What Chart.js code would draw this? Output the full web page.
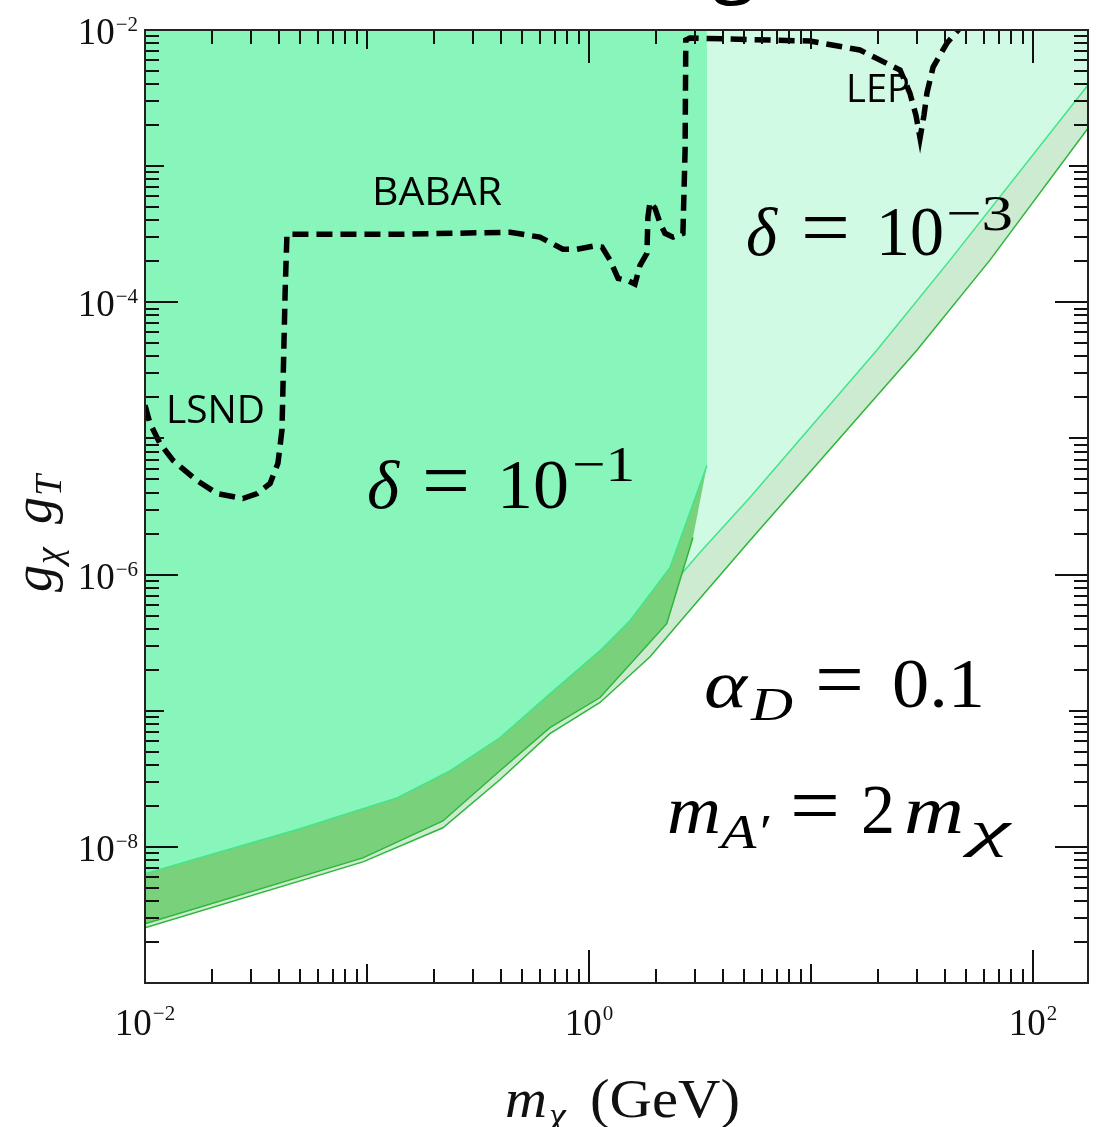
<!DOCTYPE html>
<html>
<head>
<meta charset="utf-8">
<script src="https://cdn.jsdelivr.net/npm/chart.js@4.4.1/dist/chart.umd.min.js"></script>
<style>
  html, body { margin: 0; padding: 0; background: #fff; }
</style>
</head>
<body>
<canvas id="chart" width="1104" height="1127"></canvas>
<script>
// --- data: m_chi in GeV, g_chi g_T ---

// LSND + BABAR + LEP limit (dashed)
const limitMass = [0.01, 0.01053, 0.01169, 0.01337, 0.01714, 0.0211, 0.0276, 0.0320, 0.0366, 0.0397, 0.0414, 0.0419, 0.0428, 0.0436,
  0.141, 0.441, 0.601, 0.763, 0.883, 1.042, 1.145, 1.244, 1.352, 1.484, 1.611, 1.698, 1.824, 1.843, 1.882, 1.983, 2.09, 2.20, 2.39, 2.65,
  2.71, 2.73, 2.85, 9.89, 16.6, 25.2, 27.9, 29.7, 31.0, 32.3, 33.3, 35.5, 41.0, 46.9];
const limitCoupling = [1.75e-5, 1.29e-5, 9.18e-6, 6.89e-6, 4.91e-6, 3.94e-6, 3.62e-6, 3.94e-6, 4.67e-6, 6.55e-6, 1.15e-5, 2.67e-5, 1.22e-4, 3.16e-4,
  3.16e-4, 3.27e-4, 3.01e-4, 2.45e-4, 2.45e-4, 2.58e-4, 2.54e-4, 2.04e-4, 1.50e-4, 1.45e-4, 1.36e-4, 1.87e-4, 2.29e-4, 4.22e-4, 5.43e-4, 4.91e-4, 3.81e-4, 3.21e-4, 3.01e-4, 3.21e-4,
  1.31e-3, 8.44e-3, 8.73e-3, 8.30e-3, 7.13e-3, 5.08e-3, 3.44e-3, 2.37e-3, 1.61e-3, 2.37e-3, 3.44e-3, 5.34e-3, 8.02e-3, 1.035e-2];

// delta = 1e-1 band
const d1UpperMass = [0.01, 0.0499, 0.1365, 0.2366, 0.397, 0.667, 1.122, 1.531, 2.32, 3.06, 3.40];
const d1Upper = [6.33e-9, 1.36e-8, 2.29e-8, 3.62e-8, 6.33e-8, 1.33e-7, 2.76e-7, 4.59e-7, 1.13e-6, 3.94e-6, 6.33e-6];
const d1LowerMass = [0.01, 0.0959, 0.2198, 0.397, 0.667, 1.122, 2.24, 2.94];
const d1Lower = [2.72e-9, 8.30e-9, 1.55e-8, 3.62e-8, 7.50e-8, 1.25e-7, 4.36e-7, 1.87e-6];

// delta = 1e-3 band
const d3UpperMass = [0.01, 0.0499, 0.1365, 0.2366, 0.397, 0.667, 1.122, 1.698, 2.65, 3.16, 5.31, 19.8, 42.3, 177];
const d3Upper = [6.01e-9, 1.29e-8, 2.18e-8, 3.44e-8, 5.92e-8, 1.23e-7, 2.54e-7, 4.59e-7, 1.04e-6, 1.45e-6, 3.68e-6, 4.44e-5, 2.04e-4, 3.94e-3];
const d3LowerMass = [0.01, 0.0959, 0.2198, 0.397, 0.667, 1.122, 1.884, 3.16, 5.31, 30.0, 64.0, 177];
const d3Lower = [2.54e-9, 7.76e-9, 1.38e-8, 3.11e-8, 6.78e-8, 1.15e-7, 2.49e-7, 6.67e-7, 1.78e-6, 4.44e-5, 2.04e-4, 1.90e-3];

const xMin = 0.01, xMax = 177, yMin = 1e-9, yMax = 1e-2;
const xLabelExps = [-2, 0, 2];
const yLabelExps = [-2, -4, -6, -8];

// helpers
const pts = (xs, ys) => xs.map((x, i) => ({ x, y: ys[i] }));
const SERIF = '"Liberation Serif", "DejaVu Serif", serif';
const SANS = '"Open Sans", "Noto Sans", sans-serif';

// polygons built from the curves
const d1Region = [{ x: xMin, y: yMax }, { x: d1UpperMass[d1UpperMass.length - 1], y: yMax }, ...pts(d1UpperMass, d1Upper).reverse()];
const d1Band = [...pts(d1UpperMass, d1Upper), ...pts(d1LowerMass, d1Lower).reverse()];
const d3Region = [{ x: xMin, y: yMax }, { x: xMax, y: yMax }, ...pts(d3UpperMass, d3Upper).reverse()];
const d3Band = [...pts(d3UpperMass, d3Upper), ...pts(d3LowerMass, d3Lower).reverse()];

const shape = (data, color, order) => ({ data, fill: 'shape', backgroundColor: color, borderWidth: 0, order });
const curve = (data, color, order) => ({ data, fill: false, borderColor: color, borderWidth: 1.5, order });

// draw text pieces {t, x, y, s, it, w}; w squeezes/stretches the piece to a width
const drawParts = (ctx, parts, family = SERIF) => {
    parts.forEach(p => {
        ctx.font = `${p.it ? 'italic ' : ''}${p.s}px ${family}`;
        if (p.w) {
            const sx = p.w / ctx.measureText(p.t).width;
            ctx.save();
            ctx.translate(p.x, p.y);
            ctx.scale(sx, 1);
            ctx.fillText(p.t, 0, 0);
            ctx.restore();
        } else {
            ctx.fillText(p.t, p.x, p.y);
        }
    });
};

const framePlugin = {
    id: 'frame',
    afterDraw(chart) {
        const { ctx, chartArea: a, scales: { x, y } } = chart;
        ctx.save();

        // ticks on all four sides, pointing inward
        ctx.strokeStyle = '#111';
        ctx.lineWidth = 2;
        ctx.beginPath();
        for (let d = -2; d <= 2; d++) {
            for (let k = 1; k <= 9; k++) {
                const v = k * Math.pow(10, d);
                if (v < xMin * 0.999 || v > xMax) continue;
                const px = Math.round(x.getPixelForValue(v));
                const len = k > 1 ? 14 : (d % 2 === 0 ? 33 : 19);
                ctx.moveTo(px, a.bottom); ctx.lineTo(px, a.bottom - len);
                ctx.moveTo(px, a.top); ctx.lineTo(px, a.top + len);
            }
        }
        for (let d = -9; d <= -2; d++) {
            for (let k = 1; k <= 9; k++) {
                const v = k * Math.pow(10, d);
                if (v < yMin * 0.999 || v > yMax * 1.001) continue;
                const py = Math.round(y.getPixelForValue(v));
                const len = k > 1 ? 14 : (d % 2 === 0 ? 33 : 19);
                ctx.moveTo(a.left, py); ctx.lineTo(a.left + len, py);
                ctx.moveTo(a.right, py); ctx.lineTo(a.right - len, py);
            }
        }
        ctx.stroke();

        ctx.strokeStyle = '#222';
        ctx.strokeRect(a.left, a.top, a.right - a.left, a.bottom - a.top);

        // tick labels 10^n
        ctx.fillStyle = '#111';
        ctx.textBaseline = 'alphabetic';
        ctx.textAlign = 'left';
        const big = 37, small = 21;
        const expText = n => (n < 0 ? '\u2212' : '') + Math.abs(n);
        const labelWidth = n => {
            ctx.font = `${big}px ${SERIF}`;
            const w1 = ctx.measureText('10').width;
            ctx.font = `${small}px ${SERIF}`;
            return [w1, ctx.measureText(expText(n)).width];
        };
        xLabelExps.forEach(n => {
            const px = x.getPixelForValue(Math.pow(10, n));
            const [w1, w2] = labelWidth(n);
            const left = px - (w1 + w2 + 1) / 2;
            drawParts(ctx, [
                { t: '10', x: left, y: 1035, s: big },
                { t: expText(n), x: left + w1 + 1, y: 1020, s: small }
            ]);
        });
        yLabelExps.forEach(n => {
            const py = y.getPixelForValue(Math.pow(10, n));
            const [w1, w2] = labelWidth(n);
            const left = 138 - w1 - w2 - 1;
            drawParts(ctx, [
                { t: '10', x: left, y: py + 14, s: big },
                { t: expText(n), x: left + w1 + 1, y: py + 1, s: small }
            ]);
        });

        // axis titles
        drawParts(ctx, [
            { t: 'm', x: 505, y: 1117, s: 54, it: true, w: 42 },
            { t: '\u03c7', x: 549, y: 1128, s: 38, it: true },
            { t: '(GeV)', x: 590, y: 1117, s: 54, w: 150 }
        ]);
        ctx.save();
        ctx.translate(51, 592);
        ctx.rotate(-Math.PI / 2);
        drawParts(ctx, [
            { t: 'g', x: 0, y: 0, s: 54, it: true },
            { t: '\u03c7', x: 28, y: 10, s: 38, it: true },
            { t: 'g', x: 68, y: 0, s: 54, it: true },
            { t: 'T', x: 96, y: 10, s: 38, it: true }
        ]);
        ctx.restore();

        // experiment labels
        ctx.fillStyle = '#000';
        drawParts(ctx, [
            { t: 'LSND', x: 166, y: 423, s: 38, w: 99 },
            { t: 'BABAR', x: 372, y: 205, s: 38, w: 130 },
            { t: 'LEP', x: 846, y: 102, s: 38, w: 64 }
        ], SANS);

        // cut-off title glyph at the top edge
        drawParts(ctx, [{ t: 'g', x: 712, y: -13, s: 80 }], SANS);

        // formulas
        drawParts(ctx, [
            { t: '\u03b4', x: 367, y: 508, s: 68, it: true, w: 32 },
            { t: '=', x: 422, y: 508, s: 82, w: 48 },
            { t: '10', x: 497, y: 508, s: 70, w: 72 },
            { t: '\u22121', x: 572, y: 481, s: 50, w: 63 },

            { t: '\u03b4', x: 746, y: 255, s: 68, it: true, w: 31 },
            { t: '=', x: 801, y: 255, s: 82, w: 49 },
            { t: '10', x: 876, y: 255, s: 70, w: 68 },
            { t: '\u22123', x: 946, y: 230, s: 50, w: 67 },

            { t: '\u03b1', x: 704, y: 707, s: 68, it: true, w: 43 },
            { t: 'D', x: 751, y: 720, s: 46, it: true, w: 42 },
            { t: '=', x: 815, y: 707, s: 82, w: 49 },
            { t: '0.1', x: 892, y: 707, s: 70, w: 93 },

            { t: 'm', x: 667, y: 833, s: 68, it: true, w: 54 },
            { t: 'A\u2032', x: 721, y: 848, s: 48, it: true, w: 48 },
            { t: '=', x: 790, y: 833, s: 82, w: 50 },
            { t: '2', x: 861, y: 833, s: 70, w: 34 },
            { t: 'm', x: 904, y: 833, s: 68, it: true, w: 60 },
            { t: '\u03c7', x: 970, y: 846, s: 50, it: true, w: 40 }
        ]);

        ctx.restore();
    }
};

new Chart(document.getElementById('chart'), {
    type: 'line',
    data: {
        datasets: [
            shape(d3Region, '#d0fae3', 10),
            shape(d3Band, '#cdebd0', 9),
            curve(pts(d3UpperMass, d3Upper), '#3ee689', 8),
            curve(pts(d3LowerMass, d3Lower), '#2db63a', 7),
            shape(d1Region, '#88f5bb', 6),
            shape(d1Band, '#79d17c', 5),
            curve(pts(d1UpperMass, d1Upper), '#3ee689', 4),
            curve(pts(d1LowerMass, d1Lower), '#2db63a', 3),
            {
                data: pts(limitMass, limitCoupling), fill: false, borderColor: '#000', borderWidth: 5.5,
                borderDash: [16, 8], borderCapStyle: 'butt', order: 1
            }
        ]
    },
    options: {
        responsive: false,
        animation: false,
        devicePixelRatio: 1,
        layout: { padding: { top: 30, right: 16, left: 0, bottom: 0 } },
        plugins: { legend: { display: false }, tooltip: { enabled: false } },
        elements: { point: { radius: 0 }, line: { tension: 0 } },
        scales: {
            x: {
                type: 'logarithmic', min: xMin, max: xMax,
                grid: { display: false }, border: { display: false }, ticks: { display: false },
                afterFit: s => { s.height = 144; }
            },
            y: {
                type: 'logarithmic', min: yMin, max: yMax,
                grid: { display: false }, border: { display: false }, ticks: { display: false },
                afterFit: s => { s.width = 145; }
            }
        }
    },
    plugins: [framePlugin]
});
</script>
</body>
</html>
